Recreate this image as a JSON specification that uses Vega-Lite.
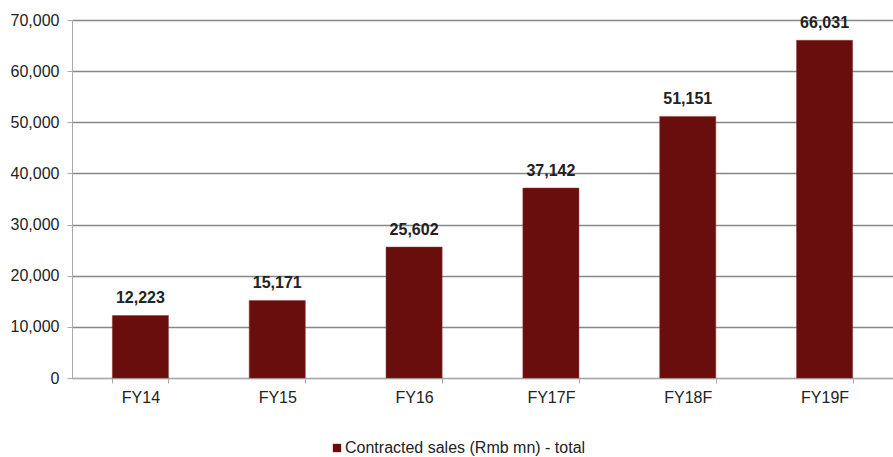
{
  "$schema": "https://vega.github.io/schema/vega-lite/v6.json",
  "width": 821,
  "height": 358,
  "autosize": {"type": "none"},
  "padding": {"left": 72, "top": 20, "right": 0, "bottom": 79},
  "background": "white",
  "config": {
    "view": {"stroke": null},
    "font": "Liberation Sans",
    "axis": {"labelFont": "Liberation Sans", "labelFontSize": 16, "labelColor": "#222222"},
    "legend": {"labelFont": "Liberation Sans", "labelFontSize": 16, "labelColor": "#222222"}
  },
  "data": {
    "values": [
      {"year": "FY14", "sales": 12223, "series": "Contracted sales (Rmb mn) - total"},
      {"year": "FY15", "sales": 15171, "series": "Contracted sales (Rmb mn) - total"},
      {"year": "FY16", "sales": 25602, "series": "Contracted sales (Rmb mn) - total"},
      {"year": "FY17F", "sales": 37142, "series": "Contracted sales (Rmb mn) - total"},
      {"year": "FY18F", "sales": 51151, "series": "Contracted sales (Rmb mn) - total"},
      {"year": "FY19F", "sales": 66031, "series": "Contracted sales (Rmb mn) - total"}
    ]
  },
  "encoding": {
    "x": {
      "field": "year", "type": "nominal", "sort": null,
      "scale": {"paddingInner": 0.59, "paddingOuter": 0.295},
      "axis": {"title": null, "labelAngle": 0, "tickBand": "extent", "domainColor": "#aaaaaa", "tickColor": "#aaaaaa", "tickSize": 5, "labelPadding": 6, "grid": false}
    },
    "y": {
      "field": "sales", "type": "quantitative",
      "scale": {"domain": [0, 70000]},
      "axis": {"title": null, "values": [0,10000,20000,30000,40000,50000,60000,70000], "format": ",d", "gridColor": "#888888", "gridWidth": 1.4, "domainColor": "#aaaaaa", "tickColor": "#aaaaaa", "tickSize": 5, "labelPadding": 8}
    }
  },
  "layer": [
    {
      "mark": {"type": "bar", "stroke": "#8a3a3a", "strokeWidth": 0.5},
      "encoding": {
        "color": {
          "field": "series", "type": "nominal",
          "scale": {"range": ["#6a0d0d"]},
          "legend": {"title": null, "orient": "none", "legendX": 257, "legendY": 420, "padding": 0, "symbolType": "square", "symbolSize": 70, "symbolOffset": 0, "labelOffset": 0, "labelLimit": 500, "labelFontSize": 16, "symbolStrokeWidth": 0}
        }
      }
    },
    {
      "mark": {"type": "text", "fontWeight": "bold", "fontSize": 16, "baseline": "bottom", "dy": -9, "color": "#222222"},
      "encoding": {
        "text": {"field": "sales", "type": "quantitative", "format": ",d"}
      }
    }
  ]
}
